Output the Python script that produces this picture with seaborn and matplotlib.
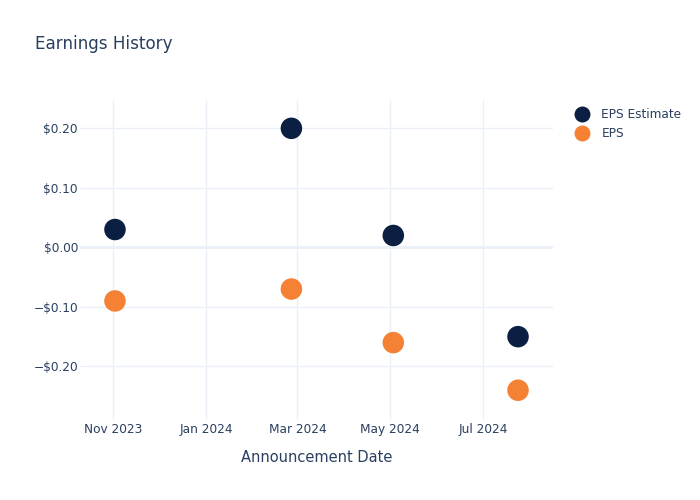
import matplotlib
matplotlib.use("Agg")
import matplotlib.pyplot as plt
import matplotlib.dates as mdates
from matplotlib.ticker import FuncFormatter, FixedLocator
from matplotlib.lines import Line2D
import seaborn as sns
import pandas as pd

dates = ["2023-11-02", "2024-02-26", "2024-05-03", "2024-07-24"]
eps_estimate = [0.03, 0.20, 0.02, -0.15]
eps_actual = [-0.09, -0.07, -0.16, -0.24]
series_names = ["EPS Estimate", "EPS"]
colors = ["#0B1F42", "#F58134"]

df = pd.DataFrame({
    "date": pd.to_datetime(dates * 2),
    "value": eps_estimate + eps_actual,
    "series": [series_names[0]] * 4 + [series_names[1]] * 4,
})

sns.set_style("white")
plt.rcParams["font.family"] = ["DejaVu Sans"]
text_color = "#2a3f5f"
grid_color = "#EBF0F8"

fig = plt.figure(figsize=(7, 5), dpi=100)
ax = fig.add_axes([80 / 700, 80 / 500, (553 - 80) / 700, 320 / 500])

ax.set_xlim(pd.Timestamp("2023-10-10"), pd.Timestamp("2024-08-16"))
ax.set_ylim(-0.290, 0.2476)

yt = [-0.2, -0.1, 0.0, 0.1, 0.2]
ax.yaxis.set_major_locator(FixedLocator(yt))
def yfmt(v, pos):
    s = f"${abs(v):.2f}"
    return ("\u2212" + s) if v < -1e-9 else s
ax.yaxis.set_major_formatter(FuncFormatter(yfmt))

xt = pd.to_datetime(["2023-11-01", "2024-01-01", "2024-03-01", "2024-05-01", "2024-07-01"])
ax.set_xticks(xt)
ax.xaxis.set_major_formatter(mdates.DateFormatter("%b %Y"))

ax.grid(True, color=grid_color, linewidth=1)
ax.axhline(0, color=grid_color, linewidth=2, zorder=1)
ax.set_axisbelow(True)
for sp in ax.spines.values():
    sp.set_visible(False)
ax.tick_params(axis="x", length=0, labelsize=8.7, colors=text_color, pad=2)
ax.tick_params(axis="y", length=0, labelsize=8.7, colors=text_color, pad=1.5)

sns.scatterplot(data=df, x="date", y="value", hue="series",
                palette=dict(zip(series_names, colors)), s=240,
                edgecolor="none", ax=ax, legend=False, zorder=3)

ax.set_xlabel("Announcement Date", fontsize=10.5, color=text_color, labelpad=10)
ax.set_ylabel("")

fig.text(35 / 700, 1 - 44 / 500, "Earnings History", fontsize=12.1,
         color=text_color, va="center", ha="left")

handles = [Line2D([0], [0], marker="o", linestyle="", markersize=11.5,
                  markerfacecolor=c, markeredgecolor="none") for c in colors]
leg = fig.legend(handles, series_names, loc="upper left",
                 bbox_to_anchor=(570 / 700, 1 - 103 / 500), frameon=False,
                 fontsize=8.7, labelcolor=text_color, handletextpad=1.0,
                 labelspacing=0.5, handlelength=1.2, borderaxespad=0)

fig.savefig("out.png", dpi=100)
